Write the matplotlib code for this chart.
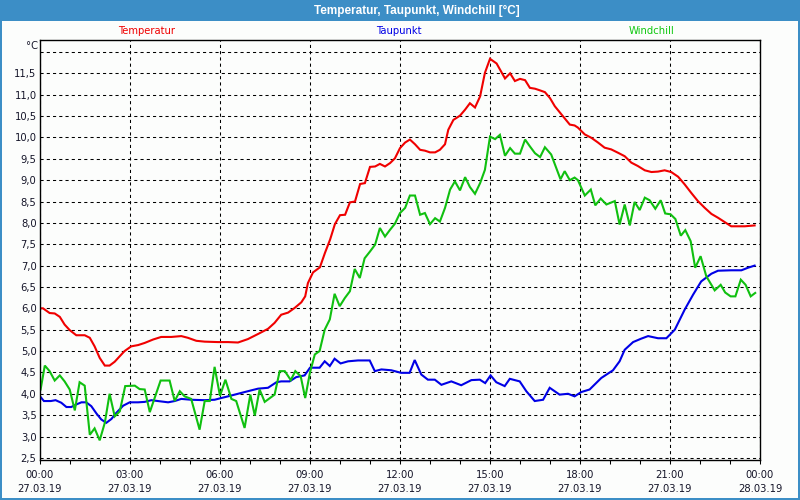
import matplotlib
matplotlib.use('Agg')

import matplotlib.pyplot as plt
from matplotlib.patches import Rectangle

# time in hours since 27.03.19 00:00
temp_t = [0.0, 0.1, 0.32, 0.49, 0.66, 0.82, 0.99, 1.21, 1.49, 1.66, 1.82, 1.99, 2.16, 2.32, 2.49,
          2.66, 2.82, 3.04, 3.27, 3.49, 3.77, 4.04, 4.38, 4.71, 4.93, 5.21, 5.49, 5.93, 6.27, 6.6,
          6.93, 7.27, 7.6, 7.82, 8.04, 8.27, 8.49, 8.71, 8.84, 8.93, 9.1, 9.33, 9.5, 9.67, 9.83,
          10.0, 10.17, 10.33, 10.5, 10.67, 10.83, 11.0, 11.17, 11.33, 11.5, 11.67, 11.83, 12.0,
          12.17, 12.33, 12.5, 12.67, 12.83, 13.0, 13.17, 13.33, 13.5, 13.61, 13.78, 14.0, 14.17,
          14.33, 14.5, 14.67, 14.83, 15.0, 15.22, 15.5, 15.67, 15.83, 16.0, 16.17, 16.33, 16.5,
          16.67, 16.83, 17.0, 17.16, 17.38, 17.66, 17.82, 17.93, 18.16, 18.38, 18.6, 18.82, 19.04,
          19.27, 19.49, 19.71, 19.93, 20.16, 20.38, 20.6, 20.82, 21.04, 21.27, 21.49, 21.71, 21.93,
          22.16, 22.38, 22.6, 22.82, 23.04, 23.27, 23.49, 23.82]
temp = [6.0, 6.0, 5.89, 5.88, 5.8, 5.62, 5.49, 5.37, 5.37, 5.31, 5.11, 4.84, 4.66, 4.66, 4.75,
        4.88, 5.0, 5.11, 5.14, 5.19, 5.27, 5.33, 5.33, 5.35, 5.31, 5.24, 5.22, 5.21, 5.21, 5.2,
        5.28, 5.4, 5.52, 5.66, 5.85, 5.9, 6.01, 6.14, 6.28, 6.59, 6.84, 6.96, 7.3, 7.61, 7.97,
        8.18, 8.19, 8.48, 8.5, 8.91, 8.93, 9.31, 9.32, 9.38, 9.32, 9.4, 9.51, 9.75,
        9.88, 9.95, 9.84, 9.71, 9.69, 9.65, 9.65, 9.71, 9.84, 10.18, 10.41, 10.51, 10.65,
        10.8, 10.7, 10.96, 11.51, 11.84, 11.73, 11.38, 11.5, 11.32, 11.37, 11.34, 11.16, 11.14,
        11.1, 11.06, 10.92, 10.73, 10.54, 10.3, 10.28, 10.23, 10.07, 9.99, 9.88, 9.76, 9.72,
        9.64, 9.56, 9.41, 9.33, 9.23, 9.19, 9.2, 9.23, 9.19, 9.08, 8.9, 8.7, 8.51,
        8.35, 8.21, 8.12, 8.02, 7.92, 7.92, 7.92, 7.94]

dew_t = [0.0, 0.13, 0.36, 0.52, 0.71, 0.88, 1.04, 1.21, 1.38, 1.54, 1.71, 1.88, 2.04, 2.21, 2.38,
         2.54, 2.77, 2.99, 3.27, 3.49, 3.71, 3.93, 4.27, 4.49, 4.71, 5.04, 5.49, 5.82, 6.04, 6.27,
         6.6, 6.93, 7.27, 7.6, 7.88, 8.04, 8.32, 8.54, 8.82, 9.0, 9.16, 9.32, 9.49, 9.66, 9.82,
         10.02, 10.27, 10.6, 10.99, 11.16, 11.38, 11.71, 12.04, 12.32, 12.49, 12.71, 12.93, 13.16,
         13.38, 13.71, 14.04, 14.38, 14.66, 14.84, 15.02, 15.21, 15.49, 15.66, 15.99, 16.21, 16.49,
         16.77, 16.99, 17.32, 17.6, 17.82, 18.04, 18.32, 18.71, 19.1, 19.32, 19.49, 19.77, 20.04,
         20.27, 20.6, 20.88, 21.16, 21.49, 21.77, 22.04, 22.38, 22.6, 23.04, 23.38, 23.6, 23.82]
dew = [3.94, 3.83, 3.83, 3.85, 3.79, 3.69, 3.69, 3.75, 3.8, 3.8, 3.71, 3.54, 3.4, 3.32, 3.41,
       3.55, 3.72, 3.8, 3.8, 3.81, 3.85, 3.83, 3.8, 3.83, 3.88, 3.86, 3.85, 3.86, 3.9, 3.94,
       4.0, 4.06, 4.12, 4.14, 4.27, 4.29, 4.29, 4.39, 4.43, 4.61, 4.61, 4.61, 4.76, 4.65, 4.82,
       4.71, 4.76, 4.78, 4.78, 4.53, 4.57, 4.55, 4.49, 4.49, 4.79, 4.45, 4.33, 4.33,
       4.21, 4.29, 4.2, 4.32, 4.33, 4.25, 4.43, 4.27, 4.18, 4.35, 4.29, 4.06, 3.83,
       3.86, 4.14, 3.98, 4.0, 3.94, 4.04, 4.1, 4.37, 4.55, 4.76, 5.03, 5.21, 5.29,
       5.35, 5.3, 5.3, 5.5, 5.97, 6.32, 6.63, 6.81, 6.88, 6.89, 6.89, 6.95, 7.0]

wind_t = [0.02, 0.16, 0.32, 0.49, 0.66, 0.82, 0.99, 1.16, 1.32, 1.49, 1.66, 1.82, 1.99, 2.16, 2.32,
          2.49, 2.66, 2.84, 3.16, 3.32, 3.49, 3.66, 3.82, 4.02, 4.32, 4.49, 4.66, 4.82, 5.04, 5.32,
          5.49, 5.66, 5.82, 6.0, 6.18, 6.38, 6.54, 6.82, 7.01, 7.16, 7.32, 7.49, 7.82, 7.99, 8.16,
          8.36, 8.51, 8.69, 8.84, 9.0, 9.16, 9.32, 9.49, 9.66, 9.82, 9.99, 10.16, 10.33, 10.49,
          10.66, 10.82, 11.0, 11.17, 11.33, 11.5, 11.67, 11.83, 12.0, 12.17, 12.33, 12.5, 12.67,
          12.83, 13.0, 13.17, 13.33, 13.5, 13.67, 13.83, 14.0, 14.17, 14.33, 14.5, 14.67, 14.83,
          15.0, 15.17, 15.33, 15.5, 15.67, 15.83, 16.0, 16.17, 16.33, 16.5, 16.67, 16.83, 17.04,
          17.35, 17.49, 17.66, 17.82, 17.93, 18.16, 18.36, 18.51, 18.69, 18.88, 19.16, 19.32,
          19.49, 19.66, 19.82, 19.99, 20.16, 20.32, 20.51, 20.69, 20.84, 21.02, 21.18, 21.36,
          21.51, 21.69, 21.84, 22.02, 22.21, 22.49, 22.69, 22.84, 23.02, 23.18, 23.36, 23.52,
          23.69, 23.84]
wind = [4.1, 4.66, 4.53, 4.31, 4.43, 4.29, 4.1, 3.61, 4.27, 4.19, 3.04, 3.19, 2.91, 3.32, 4.0,
        3.47, 3.59, 4.18, 4.19, 4.11, 4.1, 3.57, 3.9, 4.31, 4.31, 3.83, 4.06, 3.94, 3.88, 3.16,
        3.83, 3.83, 4.63, 3.95, 4.33, 3.88, 3.83, 3.2, 3.98, 3.49, 4.1, 3.81, 3.98, 4.53, 4.53,
        4.32, 4.53, 4.41, 3.9, 4.5, 4.92, 5.0, 5.5, 5.74, 6.34, 6.05, 6.24, 6.4, 6.92,
        6.71, 7.17, 7.33, 7.49, 7.88, 7.68, 7.84, 7.98, 8.23, 8.35, 8.64, 8.64, 8.19,
        8.23, 7.97, 8.11, 8.03, 8.35, 8.78, 8.97, 8.76, 9.07, 8.84, 8.68, 8.93, 9.24,
        10.02, 9.96, 10.06, 9.57, 9.75, 9.62, 9.62, 9.95, 9.79, 9.63, 9.54, 9.77, 9.6,
        9.02, 9.21, 9.0, 9.06, 9.0, 8.64, 8.78, 8.41, 8.57, 8.43, 8.51, 7.96,
        8.43, 7.94, 8.49, 8.3, 8.59, 8.53, 8.33, 8.53, 8.22, 8.2, 8.09, 7.7,
        7.83, 7.57, 6.95, 7.22, 6.75, 6.42, 6.55, 6.37, 6.28, 6.28, 6.67, 6.55,
        6.28, 6.36]

x_ticks = [0, 3, 6, 9, 12, 15, 18, 21, 24]
x_labels = ['00:00\n27.03.19', '03:00\n27.03.19', '06:00\n27.03.19', '09:00\n27.03.19',
            '12:00\n27.03.19', '15:00\n27.03.19', '18:00\n27.03.19', '21:00\n27.03.19',
            '00:00\n28.03.19']
y_ticks = [2.5, 3.0, 3.5, 4.0, 4.5, 5.0, 5.5, 6.0, 6.5, 7.0, 7.5, 8.0, 8.5, 9.0, 9.5, 10.0,
           10.5, 11.0, 11.5, 12.0]

frame_blue = '#3c8ec6'
bg = '#fcfdfc'
text_col = '#141428'

plt.rcParams['font.family'] = ['DejaVu Sans']

fig = plt.figure(figsize=(8, 5), dpi=100)
fig.patch.set_facecolor(bg)

# window frame: title bar + thin blue border
fig.add_artist(Rectangle((0, 1 - 21 / 500), 1, 21 / 500, transform=fig.transFigure,
                         facecolor=frame_blue, edgecolor='none'))
fig.add_artist(Rectangle((0, 0), 2 / 800, 1, transform=fig.transFigure, facecolor=frame_blue, edgecolor='none'))
fig.add_artist(Rectangle((1 - 2 / 800, 0), 2 / 800, 1, transform=fig.transFigure, facecolor=frame_blue, edgecolor='none'))
fig.add_artist(Rectangle((0, 0), 1, 2 / 500, transform=fig.transFigure, facecolor=frame_blue, edgecolor='none'))
fig.text(417 / 800, 1 - 10.5 / 500, 'Temperatur, Taupunkt, Windchill [°C]', color='white',
         fontsize=8.5, fontweight='bold', ha='center', va='center',
         family=['Liberation Sans Narrow', 'Liberation Sans', 'DejaVu Sans'])

ax = fig.add_axes([40 / 800, 40 / 500, 720 / 800, 420 / 500])
ax.set_facecolor(bg)

ax.plot(temp_t, temp, color='#f00000', lw=1.5, solid_joinstyle='miter')
ax.plot(dew_t, dew, color='#0000e6', lw=1.5, solid_joinstyle='miter')
ax.plot(wind_t, wind, color='#10c010', lw=1.5, solid_joinstyle='miter')

ax.set_xlim(0, 24)
ax.set_ylim(2.45, 12.28)
ax.set_xticks(x_ticks)
ax.set_xticklabels(x_labels, linespacing=1.55)
ax.set_xticks(range(0, 25), minor=True)
ax.set_yticks(y_ticks)
ax.set_yticklabels([('%.1f' % v).replace('.', ',') if v < 12 else '' for v in y_ticks])

ax.grid(True, which='major', color='black', linestyle=(0, (3, 3)), linewidth=0.75)
ax.tick_params(axis='x', which='both', direction='out', length=3, width=0.75,
               labelsize=7.2, labelcolor=text_col, pad=4)
ax.tick_params(axis='y', length=0, labelsize=7.2, labelcolor=text_col, pad=2.5)
for s in ax.spines.values():
    s.set_color('black')
    s.set_linewidth(1.0)

# series labels above the plot
fig.text(147 / 800, 1 - 31 / 500, 'Temperatur', color='#f00000', fontsize=7.2, ha='center', va='center')
fig.text(399 / 800, 1 - 31 / 500, 'Taupunkt', color='#0000e6', fontsize=7.2, ha='center', va='center')
fig.text(652 / 800, 1 - 31 / 500, 'Windchill', color='#10c810', fontsize=7.2, ha='center', va='center')
fig.text(38 / 800, 1 - 46 / 500, '°C', color=text_col, fontsize=7.2, ha='right', va='center')

fig.savefig('out.png', dpi=100, facecolor=bg)
